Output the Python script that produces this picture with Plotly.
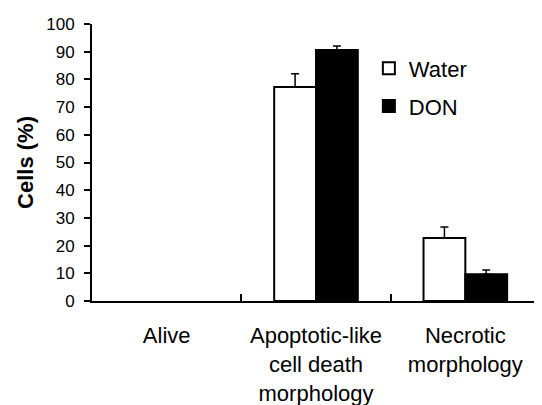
import plotly.graph_objects as go

categories = ["Alive", "Apoptotic-like<br>cell death<br>morphology", "Necrotic<br>morphology"]
water = [0, 77.3, 22.7]
water_err = [None, 4.7, 4.0]
don = [0, 90.6, 9.7]
don_err = [None, 1.5, 1.5]
x_pos = [0, 1, 2]
y_ticks = list(range(0, 101, 10))

# plot order puts the zero-height "Alive" bars last so the legend swatch keeps its outline
order = [1, 2, 0]
outline = [2, 2, 0]


def err_arrays(errs):
    # "Alive" has no error bar: leave it out of the (trailing) error arrays entirely
    plus = [errs[i] for i in order if errs[i] is not None]
    minus = [0 for _ in plus]
    return plus, minus


FONT = "Liberation Sans, Arial, sans-serif"

fig = go.Figure()
w_plus, w_minus = err_arrays(water_err)
d_plus, d_minus = err_arrays(don_err)
fig.add_trace(go.Bar(
    name="Water", legendgroup="w", x=[x_pos[i] for i in order], y=[water[i] for i in order],
    marker=dict(color="white", line=dict(color="black", width=outline)),
    error_y=dict(type="data", array=w_plus, arrayminus=w_minus,
                 symmetric=False, color="black", thickness=1.5, width=4, visible=True),
))
fig.add_trace(go.Bar(
    name="DON", legendgroup="d", x=[x_pos[i] for i in order], y=[don[i] for i in order],
    marker=dict(color="black", line=dict(color="black", width=outline)),
    error_y=dict(type="data", array=d_plus, arrayminus=d_minus,
                 symmetric=False, color="black", thickness=1.5, width=4, visible=True),
))
fig.add_trace(go.Scatter(x=[0.5, 1.5], y=[0, 0], xaxis="x2", mode="markers",
                         marker=dict(opacity=0), showlegend=False, hoverinfo="skip"))

fig.update_layout(
    width=534, height=397,
    margin=dict(l=84, r=2, t=16, b=104),
    paper_bgcolor="white", plot_bgcolor="white",
    barmode="group", bargap=0.44, bargroupgap=0,
    font=dict(family=FONT, color="black", size=18),
    showlegend=True,
    legend=dict(x=0.618, y=0.915, xanchor="left", yanchor="top",
                font=dict(family=FONT, size=22, color="black"),
                bgcolor="rgba(0,0,0,0)", tracegroupgap=6, traceorder="grouped"),
    xaxis=dict(range=[-0.5, 2.5], tickvals=x_pos, ticktext=categories,
               ticks="", showline=True, linecolor="black", linewidth=2,
               showgrid=False, zeroline=False, automargin=False,
               tickfont=dict(family=FONT, size=22, color="black"),
               ticklabelstandoff=14),
    xaxis2=dict(range=[-0.5, 2.5], overlaying="x", side="bottom",
                tickvals=[0.5, 1.5], ticks="inside", ticklen=7, tickwidth=2,
                tickcolor="black", showticklabels=False, showgrid=False,
                zeroline=False, showline=False, automargin=False),
    yaxis=dict(range=[0, 100], tickvals=y_ticks, ticks="outside", ticklen=6,
               tickwidth=2, tickcolor="black", showline=True, linecolor="black",
               linewidth=2, showgrid=False, zeroline=False, automargin=False,
               tickfont=dict(family=FONT, size=17, color="black"),
               ticklabelstandoff=6,
               title=dict(text="<b>Cells (%)</b>", font=dict(family=FONT, size=22, color="black"),
                          standoff=7)),
)

fig.write_html("out.html")
